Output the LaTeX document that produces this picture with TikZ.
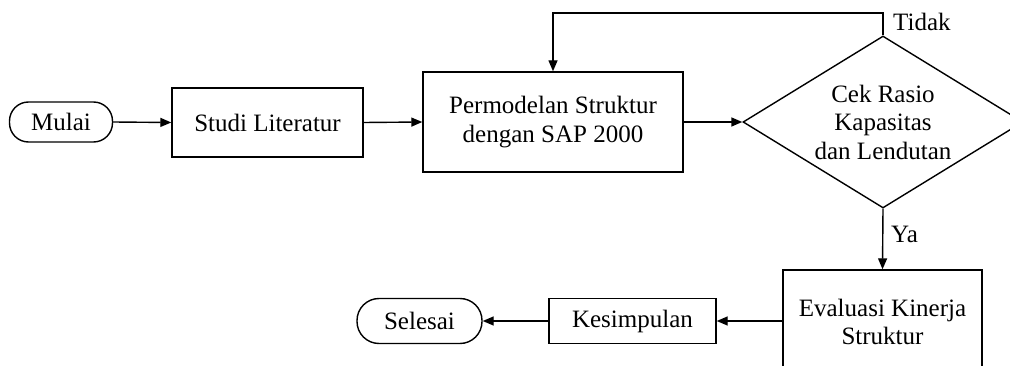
\documentclass[tikz,border=0pt]{standalone}
\usepackage{fontspec}
\setmainfont{Liberation Serif}
\usetikzlibrary{shapes.geometric,arrows.meta}
\begin{document}
\begin{tikzpicture}[x=1pt,y=-1pt,
  every node/.style={font=\fontsize{25}{28.5}\selectfont, align=center, inner sep=0pt},
  procbox/.style={draw, line width=1.4pt, rectangle},
  termbox/.style={draw, line width=1.4pt, rectangle, rounded corners=19pt},
  decbox/.style={draw, line width=1.4pt, diamond, aspect=1.63, minimum width=280pt, minimum height=172pt},
  flow/.style={line width=1.4pt, -{Triangle[length=11pt,width=9pt]}},
  lbl/.style={anchor=base west}
]
\useasboundingbox (0,0) rectangle (1010,366);
\node[termbox, minimum width=103pt, minimum height=40pt] (mulai) at (61,122) {Mulai};
\node[procbox, minimum width=191pt, minimum height=69pt] (studi) at (267.5,122.5) {Studi Literatur};
\node[procbox, minimum width=260pt, minimum height=100pt] (perm) at (553,122) {Permodelan Struktur\\dengan SAP 2000};
\node[decbox] (dia) at (883,122) {Cek Rasio\\Kapasitas\\dan Lendutan};
\node[procbox, minimum width=199pt, minimum height=104pt] (eval) at (882.5,322) {Evaluasi Kinerja\\Struktur};
\node[procbox, minimum width=167pt, minimum height=45pt] (kes) at (632.5,321) {Kesimpulan};
\node[termbox, rounded corners=22pt, minimum width=125pt, minimum height=45pt] (sel) at (419.5,321) {Selesai};

\draw[flow] (mulai.east) -- (studi.west);
\draw[flow] (studi.east) -- (perm.west);
\draw[flow] (perm.east) -- (dia.west);
\coordinate (loopc) at (883,13);
\draw[flow] (dia.north) -- (loopc) -| (perm.north);
\draw[flow] (dia.south) -- (eval.north);
\draw[flow] (eval.west |- kes.east) -- (kes.east);
\draw[flow] (kes.west) -- (sel.east);

\node[lbl] (tidak) at (893,31) {Tidak};
\node[lbl] (ya) at (891,243) {Ya};
\end{tikzpicture}
\end{document}
